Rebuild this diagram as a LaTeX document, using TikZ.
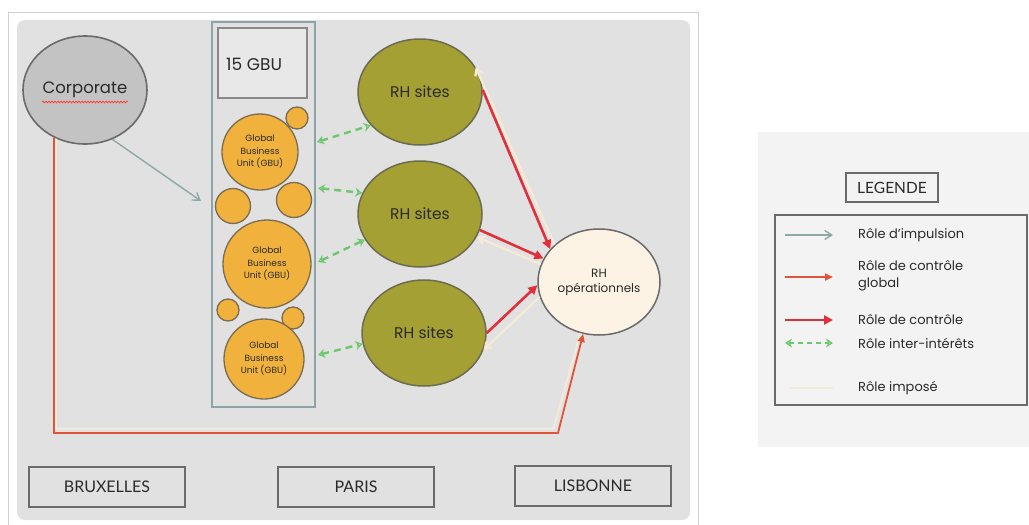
\documentclass[tikz,border=0pt]{standalone}
\usepackage{fontspec}
\setmainfont{Poppins}
\newfontfamily\cityfont{Lato}
\usetikzlibrary{shapes.geometric,arrows.meta,decorations.pathmorphing}
\definecolor{panel}{HTML}{E1E1E1}
\definecolor{legpanel}{HTML}{F3F3F3}
\definecolor{frame}{HTML}{D0D0D0}
\definecolor{corpfill}{HTML}{C3C3C3}
\definecolor{edge}{HTML}{6A6A6A}
\definecolor{colblue}{HTML}{8EA3A8}
\definecolor{boxfill}{HTML}{E8E8E8}
\definecolor{gbuorange}{HTML}{F0B23C}
\definecolor{gbuedge}{HTML}{7A6C52}
\definecolor{olive}{HTML}{A5A034}
\definecolor{oliveedge}{HTML}{6B6B52}
\definecolor{opfill}{HTML}{FCF3E4}
\definecolor{ctrlred}{HTML}{E0303A}
\definecolor{globred}{HTML}{E0553A}
\definecolor{intgreen}{HTML}{6CC86C}
\definecolor{impgray}{HTML}{8FA8A8}
\definecolor{cream}{HTML}{F3EAD8}
\definecolor{txt}{HTML}{2A2A2A}
\tikzset{
  corp/.style={ellipse,draw=edge,line width=1.6pt,fill=corpfill,minimum width=124pt,minimum height=108pt,inner sep=0pt,font=\fontsize{16.5}{18}\selectfont,text=txt},
  site/.style={ellipse,draw=oliveedge,line width=1.5pt,fill=olive,minimum width=124pt,minimum height=106pt,inner sep=0pt,font=\fontsize{15.5}{18}\selectfont,text=txt},
  opnode/.style={ellipse,draw=edge,line width=1.5pt,fill=opfill,minimum width=122pt,minimum height=106pt,inner sep=0pt,align=center,font=\fontsize{12}{15}\selectfont,text=txt},
  gbu/.style={circle,draw=gbuedge,line width=1.3pt,fill=gbuorange,inner sep=0pt,align=center,font=\fontsize{9}{12.5}\selectfont,text=txt},
  bubble/.style={circle,draw=gbuedge,line width=1.3pt,fill=gbuorange,inner sep=0pt},
  city/.style={rectangle,draw=edge,line width=1.4pt,fill=panel,minimum width=156pt,minimum height=40pt,inner sep=0pt,font=\cityfont\fontsize{16}{18}\selectfont,text=txt},
  ctrl/.style={draw=ctrlred,line width=2.6pt,-{Triangle[length=9pt,width=9pt]}},
  glob/.style={draw=globred,line width=1.8pt,-{Triangle[length=8pt,width=7pt]}},
  inter/.style={draw=intgreen,line width=2.4pt,dash pattern=on 7pt off 5pt,{Stealth[length=7pt,width=9pt,open]}-{Stealth[length=7pt,width=9pt,open]}},
  impuls/.style={draw=impgray,line width=1.4pt,-{Straight Barb[length=7pt,width=9pt]}},
  imposed/.style={draw=cream,line width=2.4pt,-{Straight Barb[length=6pt,width=8pt]}},
  legtext/.style={anchor=west,inner sep=0pt,align=left,font=\fontsize{13}{17.5}\selectfont,text=txt},
}
\begin{document}
\begin{tikzpicture}[x=1pt,y=-1pt]
\useasboundingbox (0,0) rectangle (1029,525);
\fill[white] (0,0) rectangle (1029,525);
% frame and panels
\draw[frame,line width=1pt] (8,12) rectangle (698,530);
\fill[panel,rounded corners=8pt] (17,20) rectangle (690,520);
\fill[legpanel] (758,132) rectangle (1029,447);

% GBU column
\node[rectangle,draw=colblue,line width=1.4pt,minimum width=103pt,minimum height=385pt,inner sep=0pt] (col) at (263.5,214.5) {};
\node[rectangle,draw=edge!80,line width=1.4pt,fill=boxfill,minimum width=89pt,minimum height=70pt,inner sep=0pt] (gbubox) at (262.5,63) {};
\node[anchor=west,inner sep=0pt,font=\fontsize{17}{19}\selectfont,text=txt] (gbulabel) at (226,64) {15 GBU};

\node[gbu,minimum size=76pt] (gbu1) at (260,152) {Global\\Business\\Unit (GBU)};
\node[bubble,minimum size=22pt] (b1) at (297,118) {};
\node[bubble,minimum size=35pt] (b2) at (233,206) {};
\node[bubble,minimum size=35pt] (b3) at (294,200) {};
\node[gbu,minimum size=88pt] (gbu2) at (267,264) {Global\\Business\\Unit (GBU)};
\node[bubble,minimum size=22pt] (b4) at (228,310) {};
\node[bubble,minimum size=22pt] (b5) at (293,318) {};
\node[gbu,minimum size=80pt] (gbu3) at (264,359) {Global\\Business\\Unit (GBU)};

% Corporate
\node[corp] (corp) at (85,90) {Corporate};
\draw[red!75!white,line width=0.8pt,decorate,decoration={snake,amplitude=0.8pt,segment length=3pt}] (42,102) -- (128,102);

% RH sites
\node[site] (rh1) at (420,92) {RH sites};
\node[site] (rh2) at (420,214) {RH sites};
\node[site] (rh3) at (424,333) {RH sites};
\node[opnode] (rhop) at (599,282) {RH\\opérationnels};

% city boxes
\node[city] (bxl) at (107,487) {BRUXELLES};
\node[city] (par) at (356,487) {PARIS};
\node[city] (lis) at (593,486) {LISBONNE};

% global control (Corporate -> RH op) with imposed line beside it
\coordinate (g1) at (54,433);
\coordinate (g2) at (558,433);
\coordinate (i1) at (58.5,428.5);
\coordinate (i2) at (553.5,428.5);
\draw[cream,line width=2pt] (corp.239) -- (corp.239 |- i1) -- (i2) -- (rhop.250);
\draw[glob] (corp.237) -- (g1) -- (g2) -- (rhop.253);

% imposed (RH op -> sites)
\draw[imposed] (rhop.140) -- (rh1.24);
\draw[imposed] (rhop.163) -- (rh2.-22);
\draw[imposed] (rhop.194) -- (rh3.-16);

% control arrows
\draw[ctrl] (rh1.2) -- (rhop.146);
\draw[ctrl] (rh2.-15) -- (rhop.157);
\draw[ctrl] (rh3.0) -- (rhop.183);

% impulsion
\coordinate (impend) at (201,201);
\draw[impuls] (corp.-61) -- (impend);

% inter-interests
\coordinate (e1) at (317,142);
\coordinate (e2) at (318,188);
\coordinate (e3) at (318,262);
\coordinate (e4) at (318,355);
\draw[inter] (e1) -- (rh1.214);
\draw[inter] (e2) -- (rh2.160);
\draw[inter] (e3) -- (rh2.205);
\draw[inter] (e4) -- (rh3.190);

% legend
\node[rectangle,draw=edge,line width=1.3pt,minimum width=92pt,minimum height=29pt,inner sep=0pt,font=\cityfont\fontsize{15.5}{17}\selectfont,text=txt] (legtitle) at (892,187.5) {LEGENDE};
\node[rectangle,draw=edge,line width=1.3pt,minimum width=252pt,minimum height=190pt,inner sep=0pt] (legbox) at (901,310) {};
\coordinate (l1a) at (785,235); \coordinate (l1b) at (833,235);
\coordinate (l2a) at (785,277); \coordinate (l2b) at (833,277);
\coordinate (l3a) at (785,320); \coordinate (l3b) at (833,320);
\coordinate (l4a) at (785,343); \coordinate (l4b) at (833,343);
\coordinate (l5a) at (790,388); \coordinate (l5b) at (833,388);
\draw[impuls] (l1a) -- (l1b);
\draw[glob] (l2a) -- (l2b);
\draw[ctrl] (l3a) -- (l3b);
\draw[inter,line width=2pt,dash pattern=on 5pt off 4pt] (l4a) -- (l4b);
\draw[cream,line width=2.6pt] (l5a) -- (l5b);
\node[legtext] (t1) at (858,235) {Rôle d’impulsion};
\node[legtext] (t2) at (858,276) {Rôle de contrôle\\global};
\node[legtext] (t3) at (858,320) {Rôle de contrôle};
\node[legtext] (t4) at (858,343) {Rôle inter-intérêts};
\node[legtext] (t5) at (858,388) {Rôle imposé};
\end{tikzpicture}
\end{document}
